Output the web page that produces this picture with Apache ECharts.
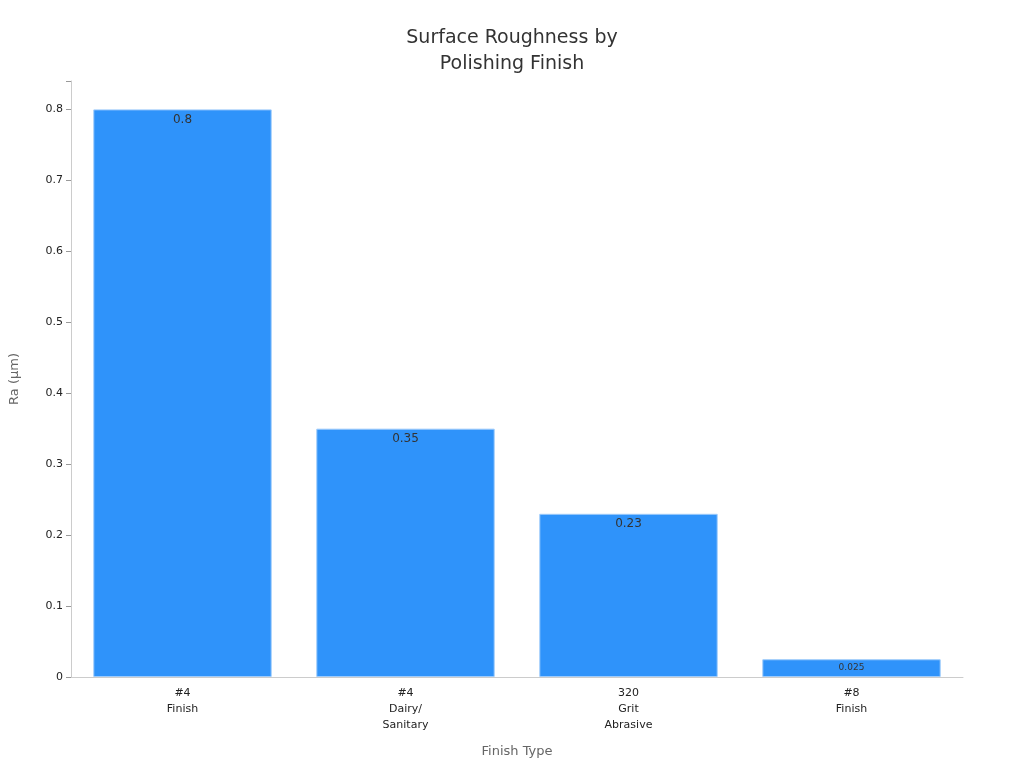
<!DOCTYPE html>
<html>
<head>
<meta charset="utf-8">
<script src="https://cdn.jsdelivr.net/npm/echarts@6/dist/echarts.min.js"></script>
<style>html,body{margin:0;padding:0;background:#fff}#chart{width:1024px;height:768px}</style>
</head>
<body>
<div id="chart"></div>
<script>
// 分类与数值
var categories = ["#4\nFinish", "#4\nDairy/\nSanitary", "320\nGrit\nAbrasive", "#8\nFinish"];
var roughness = [0.8, 0.35, 0.23, 0.025];
var labelSizes = [12, 12, 12, 9];

var myChart = echarts.init(document.getElementById("chart"));
var option = {
	title: {
		text: "Surface Roughness by\nPolishing Finish",
		left: "center",
		top: 20,
		textStyle: { fontFamily: "DejaVu Sans", fontSize: 19, fontWeight: "normal", color: "#333", lineHeight: 26 }
	},
	grid: { left: 64, right: 61, top: 81, bottom: 91 },
	xAxis: {
		type: "category",
		data: categories,
		name: "Finish Type",
		nameLocation: "middle",
		nameGap: 68,
		nameTextStyle: { fontFamily: "DejaVu Sans", fontSize: 13, color: "#666" },
		axisLine: { lineStyle: { color: "#ccc" } },
		axisTick: { alignWithLabel: true, lineStyle: { color: "#999" } },
		axisLabel: { fontFamily: "DejaVu Sans", fontSize: 11, color: "#222", lineHeight: 16 }
	},
	yAxis: {
		type: "value",
		min: 0,
		max: 0.84,
		interval: 0.1,
		name: "Ra (μm)",
		nameLocation: "middle",
		nameGap: 50,
		nameTextStyle: { fontFamily: "DejaVu Sans", fontSize: 13, color: "#666" },
		axisLine: { show: true, lineStyle: { color: "#ccc" } },
		axisTick: { show: true, lineStyle: { color: "#999" } },
		splitLine: { show: false },
		axisLabel: {
			fontFamily: "DejaVu Sans", fontSize: 11, color: "#222",
			formatter: function(v) { return v > 0.805 ? "" : String(Math.round(v * 10) / 10); }
		}
	},
	series: [{
		type: "bar",
		barWidth: "80%",
		data: roughness.map(function(v, i) {
			return { value: v, label: { fontSize: labelSizes[i] } };
		}),
		itemStyle: { color: "#2f93fa", borderColor: "#9ecbfb", borderWidth: 1 },
		label: { show: true, position: "insideTop", distance: 4, color: "#333", fontFamily: "DejaVu Sans" }
	}]
};
myChart.setOption(option);
</script>
</body>
</html>
